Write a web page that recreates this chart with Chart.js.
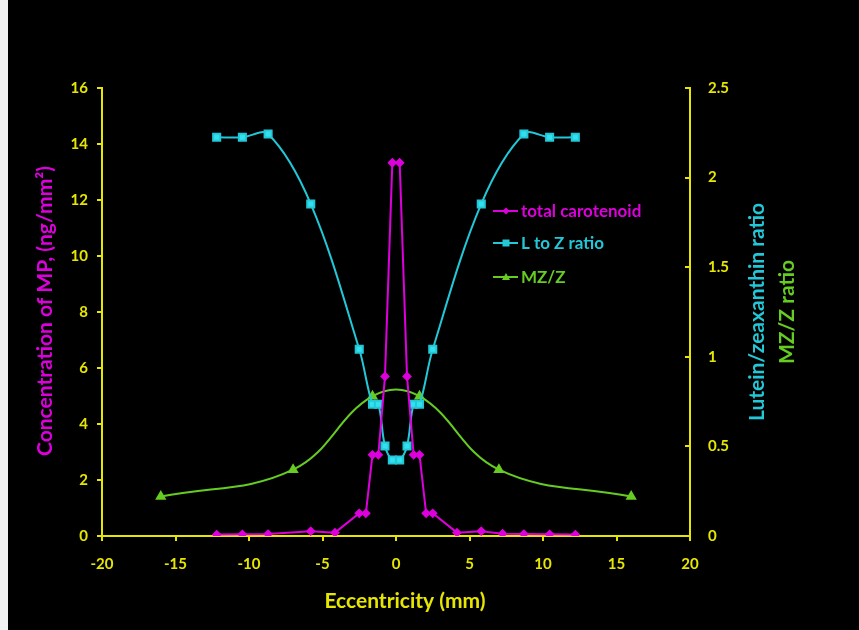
<!DOCTYPE html>
<html>
<head>
<meta charset="utf-8">
<script src="https://cdn.jsdelivr.net/npm/chart.js@4.4.1/dist/chart.umd.min.js"></script>
<style>
  html, body { margin: 0; padding: 0; background: #fff; }
  #wrap { position: relative; width: 859px; height: 630px; background: #000; }
  #edge { position: absolute; left: 0; top: 0; width: 8px; height: 630px; background: #f2f2f2; }
  canvas { display: block; }
</style>
</head>
<body>
<div id="wrap">
  <canvas id="chart" width="859" height="630"></canvas>
  <div id="edge"></div>
</div>
<script>
// ── Данные ──────────────────────────────────────────
const carotX = [-12.2, -10.45, -8.7, -5.8, -4.15, -2.5, -2.05, -1.6, -1.2, -0.75, -0.25,
                0.25, 0.75, 1.2, 1.6, 2.05, 2.5, 4.15, 5.8, 7.25, 8.7, 10.45, 12.2];
const carotY = [0.05, 0.06, 0.07, 0.17, 0.12, 0.81, 0.81, 2.9, 2.9, 5.7, 13.33,
                13.33, 5.7, 2.9, 2.9, 0.81, 0.81, 0.12, 0.17, 0.08, 0.07, 0.06, 0.05];

const lzX = [-12.2, -10.45, -8.7, -5.8, -2.5, -1.6, -1.2, -0.75, -0.25,
             0.25, 0.75, 1.2, 1.6, 2.5, 5.8, 8.7, 10.45, 12.2];
const lzY = [2.225, 2.225, 2.243, 1.853, 1.042, 0.735, 0.735, 0.502, 0.424,
             0.424, 0.502, 0.735, 0.735, 1.042, 1.853, 2.243, 2.225, 2.225];

const mzX = [-16, -7, -1.6, 1.6, 7, 16];
const mzY = [0.22, 0.37, 0.78, 0.78, 0.37, 0.22];

const seriesNames = ['total carotenoid', 'L to Z ratio', 'MZ/Z'];
const xTitle = 'Eccentricity (mm)';
const yTitle = 'Concentration of MP, (ng/mm\u00B2)';
const y1Titles = ['Lutein/zeaxanthin ratio', 'MZ/Z ratio'];

// ── Стиль ───────────────────────────────────────────
const MAGENTA = '#dd00dd';
const CYAN = '#22c8d8';
const GREEN = '#66cc22';
const YELLOW = '#e6e600';
const FONT = 'Lato, "Open Sans", sans-serif';

const pts = (xs, ys) => xs.map((x, i) => ({ x, y: ys[i] }));

// Подписи осей и легенда рисуются вручную
const decorPlugin = {
  id: 'decor',
  afterDraw(chart) {
    const ctx = chart.ctx;
    ctx.save();
    ctx.textBaseline = 'middle';
    ctx.textAlign = 'center';
    ctx.font = 'bold 21px ' + FONT;

    ctx.fillStyle = YELLOW;
    ctx.fillText(xTitle, 405, 601);

    function vText(txt, x, y, color) {
      ctx.save();
      ctx.translate(x, y);
      ctx.rotate(-Math.PI / 2);
      ctx.fillStyle = color;
      ctx.fillText(txt, 0, 0);
      ctx.restore();
    }
    vText(yTitle, 45, 311, MAGENTA);
    vText(y1Titles[0], 757, 312, CYAN);
    vText(y1Titles[1], 787, 312, GREEN);

    // Легенда
    const rows = [
      { c: MAGENTA, m: 'diamond', y: 211 },
      { c: CYAN, m: 'square', y: 243 },
      { c: GREEN, m: 'triangle', y: 277 },
    ];
    ctx.font = 'bold 17px ' + FONT;
    ctx.textAlign = 'left';
    rows.forEach((r, i) => {
      ctx.strokeStyle = r.c;
      ctx.fillStyle = r.c;
      ctx.lineWidth = 2;
      ctx.beginPath();
      ctx.moveTo(493, r.y);
      ctx.lineTo(518, r.y);
      ctx.stroke();
      const cx = 506, cy = r.y;
      ctx.beginPath();
      if (r.m === 'diamond') {
        ctx.moveTo(cx, cy - 3.5); ctx.lineTo(cx + 3.5, cy);
        ctx.lineTo(cx, cy + 3.5); ctx.lineTo(cx - 3.5, cy);
      } else if (r.m === 'square') {
        ctx.rect(cx - 3.5, cy - 3.5, 7, 7);
      } else {
        ctx.moveTo(cx, cy - 4); ctx.lineTo(cx + 4, cy + 3); ctx.lineTo(cx - 4, cy + 3);
      }
      ctx.closePath();
      ctx.fill();
      ctx.fillText(seriesNames[i], 521, r.y + 1);
    });
    ctx.restore();
  },
};

const tickFont = { family: FONT, size: 15, weight: 'bold' };

new Chart(document.getElementById('chart'), {
  type: 'scatter',
  data: {
    datasets: [
      {
        label: seriesNames[0],
        data: pts(carotX, carotY),
        yAxisID: 'y',
        showLine: true,
        borderColor: MAGENTA,
        backgroundColor: MAGENTA,
        borderWidth: 2,
        pointStyle: 'rectRot',
        pointRadius: 3.5,
        tension: 0,
      },
      {
        label: seriesNames[1],
        data: pts(lzX, lzY),
        yAxisID: 'y1',
        showLine: true,
        borderColor: CYAN,
        backgroundColor: '#33e0ee',
        borderWidth: 2,
        pointStyle: 'rect',
        pointRadius: 5,
        tension: 0.35,
      },
      {
        label: seriesNames[2],
        data: pts(mzX, mzY),
        yAxisID: 'y1',
        showLine: true,
        borderColor: GREEN,
        backgroundColor: GREEN,
        borderWidth: 2,
        pointStyle: 'triangle',
        pointRadius: 4.5,
        tension: 0.4,
      },
    ],
  },
  options: {
    responsive: false,
    animation: false,
    events: [],
    layout: { padding: { top: 88, left: 0, right: 0, bottom: 0 } },
    plugins: { legend: { display: false }, tooltip: { enabled: false } },
    scales: {
      x: {
        type: 'linear',
        min: -20, max: 20,
        ticks: { stepSize: 5, color: YELLOW, font: tickFont, padding: 14, maxRotation: 0 },
        grid: { drawOnChartArea: false, color: YELLOW, tickLength: 5, lineWidth: 2 },
        border: { color: YELLOW, width: 2 },
        afterFit: (s) => { s.height = 94; },
      },
      y: {
        position: 'left',
        min: 0, max: 16,
        ticks: { stepSize: 2, color: YELLOW, font: tickFont, padding: 9 },
        grid: { drawOnChartArea: false, color: YELLOW, tickLength: 5, lineWidth: 2 },
        border: { color: YELLOW, width: 2 },
        afterFit: (s) => { s.width = 102; },
      },
      y1: {
        position: 'right',
        min: 0, max: 2.5,
        ticks: {
          stepSize: 0.5, color: YELLOW, font: tickFont, padding: 23,
          callback: (v) => String(Number(v)),
        },
        grid: { drawOnChartArea: false, color: YELLOW, tickLength: -5, lineWidth: 2 },
        border: { color: YELLOW, width: 2 },
        afterFit: (s) => { s.width = 169; },
      },
    },
  },
  plugins: [decorPlugin],
});
</script>
</body>
</html>
